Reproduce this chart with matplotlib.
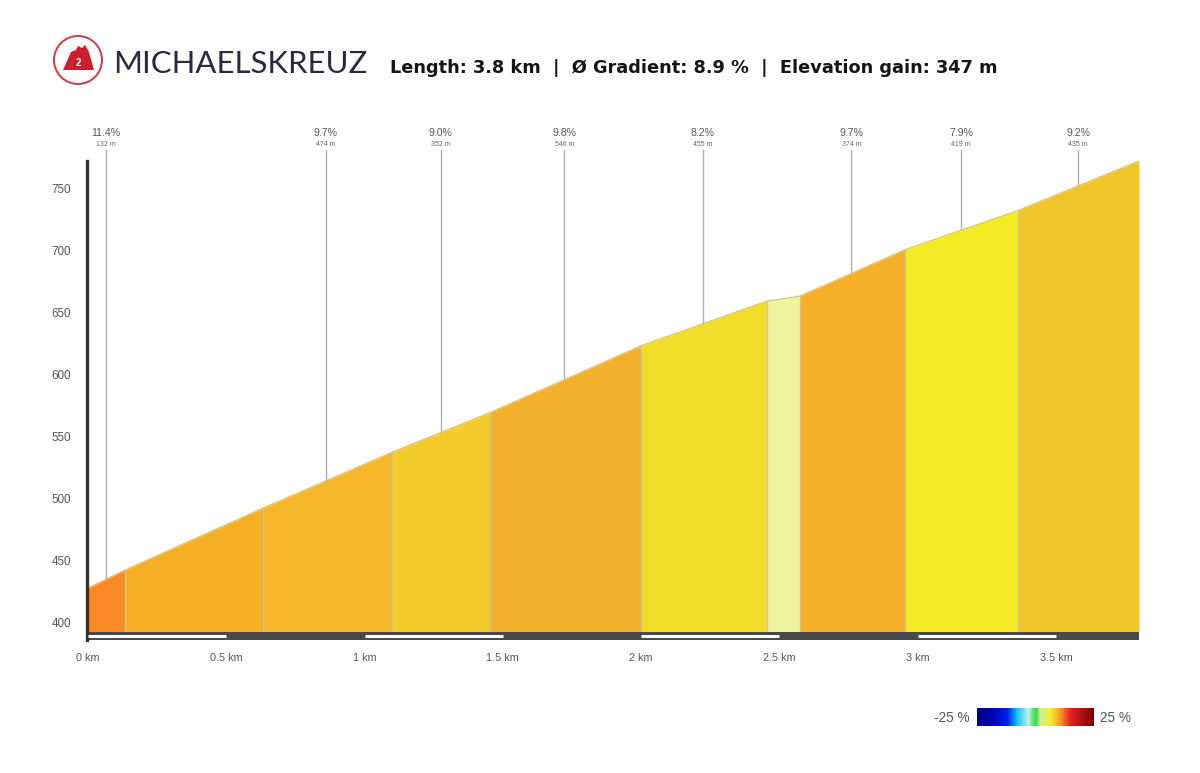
import numpy as np
import matplotlib
matplotlib.use("Agg")
import matplotlib.pyplot as plt
from matplotlib.colors import LinearSegmentedColormap
from matplotlib.patches import Circle, Polygon, Rectangle

W, H = 1200, 773
plt.rcParams['font.family'] = ['Liberation Sans', 'DejaVu Sans']

# --- data ---
distance_km = [0, 0.134, 0.633, 1.099, 1.453, 2.0, 2.455, 2.574, 2.954, 3.362, 3.8]
elevation_m = [427.5, 442, 492, 537, 569, 623, 659, 663, 700.5, 732, 772]
seg_colors = ['#F98A25', '#F4AF25', '#F6B72A', '#F3CB2B', '#F2B02C',
              '#F2DE2A', '#EFF3A0', '#F5B02A', '#F3EC25', '#F0C52A']
leader_km = [0.065, 0.86, 1.275, 1.722, 2.222, 2.76, 3.157, 3.58]
leader_pct = ['11.4%', '9.7%', '9.0%', '9.8%', '8.2%', '9.7%', '7.9%', '9.2%']
leader_len = ['132 m', '474 m', '352 m', '546 m', '455 m', '374 m', '419 m', '435 m']
y_ticks = [400, 450, 500, 550, 600, 650, 700, 750]
x_ticks = [0, 0.5, 1, 1.5, 2, 2.5, 3, 3.5]
x_labels = ['0 km', '0.5 km', '1 km', '1.5 km', '2 km', '2.5 km', '3 km', '3.5 km']
scale_edges = [0, 0.5, 1, 1.5, 2, 2.5, 3, 3.5, 3.8]
gradient_stops = [(0.0, '#00007F'), (0.12, '#0000B0'), (0.26, '#0020F0'), (0.34, '#10C0F0'),
                  (0.44, '#C0F0F0'), (0.48, '#60E070'), (0.51, '#30E040'), (0.54, '#D0F0A0'),
                  (0.63, '#F0F030'), (0.71, '#F8A020'), (0.80, '#E82020'), (0.90, '#B01010'),
                  (1.0, '#800000')]
title_text = 'Length: 3.8 km  |  Ø Gradient: 8.9 %  |  Elevation gain: 347 m'

fig = plt.figure(figsize=(W / 100, H / 100), dpi=100, facecolor='white')

# main axes: x px 88..1139, y px 632(bottom)..161(top)
ax = fig.add_axes([88 / W, 1 - 632 / H, (1139 - 88) / W, (632 - 161) / H])
ax.set_xlim(0, 3.8)
ax.set_ylim(392, 772)
ax.patch.set_alpha(0)
for s in ax.spines.values():
    s.set_visible(False)
ybase = 392
px = 380 / 471  # metres per pixel

for i, c in enumerate(seg_colors):
    ax.fill_between(distance_km[i:i + 2], elevation_m[i:i + 2], ybase, color=c, lw=0, zorder=2)
    if i > 0:
        ax.plot([distance_km[i]] * 2, [ybase, elevation_m[i]], color='#D2C595', lw=0.9, zorder=3)
ax.plot(distance_km, elevation_m, color='#C9BC8E', lw=0.8, zorder=4)

# leaders and labels
elev_at = np.interp(leader_km, distance_km, elevation_m)
for xk, e, p, l in zip(leader_km, elev_at, leader_pct, leader_len):
    ax.plot([xk, xk], [e, 772 + 11 * px], color='#B0B0B0', lw=1.0, zorder=1, clip_on=False)
    ax.annotate(p, (xk, 772), xytext=(0, 22.5), textcoords='offset pixels', ha='center', va='bottom',
                fontsize=7.6, color='#555555', annotation_clip=False)
    ax.annotate(l, (xk, 772), xytext=(0, 13), textcoords='offset pixels', ha='center', va='bottom',
                fontsize=5, color='#666666', annotation_clip=False)

# left axis line
ax.plot([-0.004, -0.004], [392 - 8 * px, 772], color='#333333', lw=2.4, clip_on=False, zorder=6)

# distance scale bar
ax.add_patch(Rectangle((-0.005, 392 - 8 * px), 3.805, 8 * px, color='#484B4A', lw=0,
                       clip_on=False, zorder=5))
for a, b in zip(scale_edges[0::2], scale_edges[1::2]):
    ax.plot([a, b], [392 - 4 * px] * 2, color='white', lw=2.1, solid_capstyle='butt',
            clip_on=False, zorder=6)

ax.set_yticks(y_ticks)
ax.set_yticklabels([str(v) for v in y_ticks], fontsize=8.4, color='#555555')
ax.set_xticks(x_ticks)
ax.set_xticklabels(x_labels, fontsize=7.8, color='#555555')
ax.tick_params(axis='y', length=0, pad=12)
ax.tick_params(axis='x', length=0, pad=15)

# full-figure overlay in pixels for header and legend decoration
ov = fig.add_axes([0, 0, 1, 1])
ov.set_xlim(0, W)
ov.set_ylim(H, 0)
ov.axis('off')
ov.patch.set_alpha(0)
ov.add_patch(Circle((78, 60), 24, fill=False, ec='#CF3A44', lw=1.4))
ov.add_patch(Polygon([(63, 70), (71, 52), (76, 50), (78, 46), (82, 48), (85, 45), (89, 52), (94, 70)],
                     closed=True, fc='#C8202E', ec='none'))
ov.text(78, 63, '2', color='white', fontsize=7, ha='center', va='center', fontweight='bold')
ov.text(113, 64, 'MICHAELSKREUZ', fontsize=22.4, color='#2A2A3C', family='Lato',
        ha='left', va='center')
ov.text(390, 68, title_text, fontsize=12.8, color='#151515', family='DejaVu Sans', fontweight='bold',
        ha='left', va='center')

# gradient legend
cmap = LinearSegmentedColormap.from_list('grad', gradient_stops)
ov.imshow(np.linspace(0, 1, 256)[None, :], cmap=cmap, aspect='auto', extent=(977, 1094, 726, 708), zorder=3)
ov.set_xlim(0, W)
ov.set_ylim(H, 0)
ov.text(970, 718, '-25 %', fontsize=9.8, color='#555555', ha='right', va='center')
ov.text(1100, 718, '25 %', fontsize=9.8, color='#555555', ha='left', va='center')

fig.savefig('out.png', dpi=100, facecolor='white')
